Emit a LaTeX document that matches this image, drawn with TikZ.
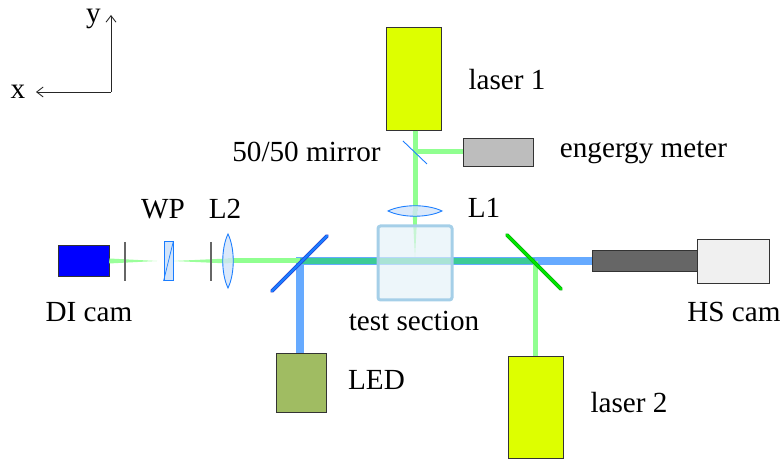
\documentclass[tikz,border=0pt]{standalone}
\usepackage{fontspec}
\setmainfont{Liberation Serif}
\usetikzlibrary{arrows.meta}
\definecolor{lasergreen}{HTML}{DDFF00}
\definecolor{beamgreen}{HTML}{90FF90}
\definecolor{beamblue}{HTML}{66AAFF}
\definecolor{beamteal}{HTML}{3CCB96}
\definecolor{optblue}{HTML}{1A7DFF}
\definecolor{optfill}{HTML}{D2E4FA}
\tikzset{
box/.style={rectangle,draw=black!80,line width=0.5pt,inner sep=0pt},
laser/.style={box,minimum width=1.1cm,minimum height=2.05cm,fill=lasergreen},
lbl/.style={inner sep=0pt,font=\fontsize{16.6}{18}\selectfont},
greenbeam/.style={draw=beamgreen,line width=0.1cm},
bluebeam/.style={draw=beamblue,line width=0.16cm},
tealbeam/.style={draw=beamteal,line width=0.11cm},
cone/.style={fill=beamgreen,draw=none},
lens/.style={draw=optblue,fill=optfill,fill opacity=0.8,line width=0.5pt},
stop/.style={draw=black!60,line width=0.6pt},
axis/.style={-{Straight Barb[length=1.3mm,width=2mm]},line width=0.5pt,black!85},
}
\begin{document}
\begin{tikzpicture}
\useasboundingbox (0,0) rectangle (15.66,9.22);
\draw (8.27,7.64)node[laser](laserone){};
\draw (10.71,1.07)node[laser](lasertwo){};
\draw (9.96,6.18)node[box,minimum width=1.4cm,minimum height=0.56cm,fill=black!26](meter){};
\draw (6.02,1.57)node[box,minimum width=1cm,minimum height=1.18cm,fill={rgb,255:red,160;green,188;blue,98}](led){};
\draw (1.67,4)node[box,minimum width=1.02cm,minimum height=0.62cm,fill=blue](dicam){};
\draw (12.89,4)node[box,minimum width=2.1cm,minimum height=0.42cm,fill=black!60](hsbody){};
\draw (14.66,4)node[box,minimum width=1.44cm,minimum height=0.88cm,fill=black!6](hscam){};
\coordinate (mirrorleft) at (6,4);
\coordinate (mirrorright) at (10.7,4);
\coordinate (mirrorsplit) at (8.3,6.18);
\coordinate (lensone) at (8.3,5);
\coordinate (lenstwo) at (4.56,4);
\coordinate (focusone) at (8.3,4.08);
\coordinate (wpcentre) at (3.37,4);

% beams
\draw[greenbeam](laserone.south -| lensone)--(lensone);
\draw[greenbeam](mirrorsplit)--(meter.west);
\draw[cone](8.25,5)--(8.35,5)--(focusone)--cycle;
\draw[bluebeam](led.north -| mirrorleft)--(mirrorleft);
\draw[bluebeam](mirrorleft)+(-0.08,0)--(hsbody.west);
\draw[tealbeam](mirrorleft)--(mirrorright);
\draw[greenbeam](lasertwo.north -| mirrorright)--(mirrorright);
\draw[greenbeam](lenstwo)--(mirrorleft);
\draw[cone,fill opacity=0.9](lenstwo)+(0,0.05)--(3.46,4)--(4.56,3.95)--cycle;
\draw[cone,fill opacity=0.9](dicam.east)+(0,0.05)--(3.14,4)--(2.18,3.95)--cycle;

% optics
\draw[lens](7.76,5) .. controls (8.05,5.14) and (8.55,5.14) .. (8.84,5) .. controls (8.55,4.86) and (8.05,4.86) .. (7.76,5)--cycle;
\draw[lens](4.56,4.54) .. controls (4.42,4.25) and (4.42,3.75) .. (4.56,3.46) .. controls (4.7,3.75) and (4.7,4.25) .. (4.56,4.54)--cycle;
\draw[stop](2.5,4.38)--(2.5,3.6);
\draw[stop](4.22,4.38)--(4.22,3.6);
\draw (3.37,4)node[rectangle,minimum width=0.18cm,minimum height=0.78cm,inner sep=0pt,draw=optblue,fill=optfill,line width=0.5pt](wp){};
\draw[draw=optblue,line width=0.4pt](wp.south west)--(wp.north east);
\draw[draw=optblue,line width=0.5pt](8.06,6.4)--(8.54,5.94);

% mirrors
\draw[line width=0.075cm,line cap=round,draw=blue!70!black!85](5.44,3.4)--(6.54,4.5);
\draw[line width=0.05cm,line cap=round,draw=optblue](5.44,3.4)--(6.54,4.5);
\draw[line width=0.075cm,line cap=round,draw=green!60!black](10.14,4.52)--(11.22,3.44);
\draw[line width=0.05cm,line cap=round,draw=green!90!black](10.14,4.52)--(11.22,3.44);

% test section
\draw (8.3,3.96)node[rectangle,minimum width=1.48cm,minimum height=1.48cm,rounded corners=0.5mm,draw={rgb,255:red,165;green,207;blue,232},line width=0.06cm,fill={rgb,255:red,228;green,241;blue,248},fill opacity=0.65,draw opacity=1](testsection){};

% axes
\coordinate (origin) at (2.22,7.38);
\coordinate (yend) at (2.22,8.92);
\coordinate (xend) at (0.72,7.38);
\draw[axis](origin)--(yend);
\draw[axis](origin)--(xend);
\draw (1.87,8.84)node[lbl](ylabel){y};
\draw (0.36,7.38)node[lbl](xlabel){x};

% labels
\draw (10.14,7.62)node[lbl](laseronelabel){laser 1};
\draw (12.87,6.17)node[lbl](meterlabel){engergy meter};
\draw (6.13,6.18)node[lbl](mirrorlabel){50/50 mirror};
\draw (9.68,5.06)node[lbl](lensonelabel){L1};
\draw (3.26,5.04)node[lbl](wplabel){WP};
\draw (4.5,5.04)node[lbl](lenstwolabel){L2};
\draw (1.78,2.98)node[lbl](dilabel){DI cam};
\draw (8.28,2.8)node[lbl](testlabel){test section};
\draw (7.53,1.62)node[lbl](ledlabel){LED};
\draw (12.58,1.16)node[lbl](lasertwolabel){laser 2};
\draw (14.68,2.98)node[lbl](hslabel){HS cam};
\end{tikzpicture}
\end{document}
